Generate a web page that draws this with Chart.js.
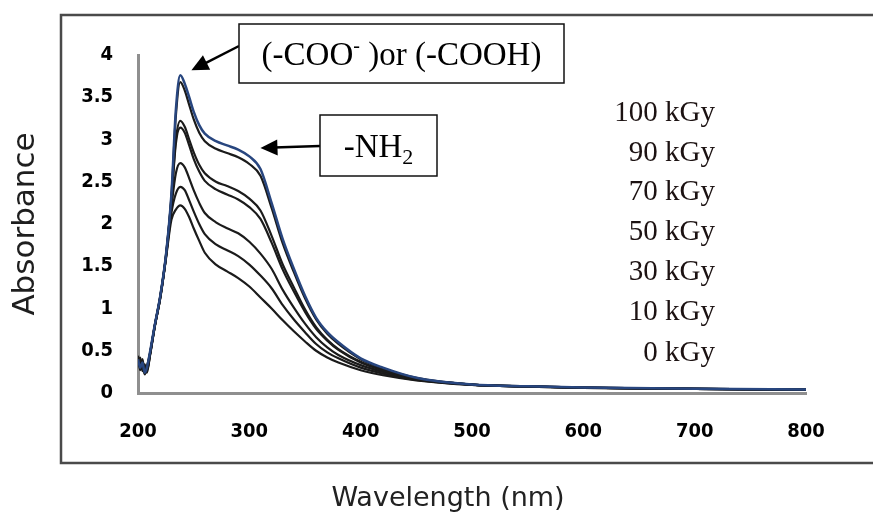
<!DOCTYPE html>
<html>
<head>
<meta charset="utf-8">
<script src="https://cdn.jsdelivr.net/npm/chart.js@4.4.0/dist/chart.umd.min.js"></script>
<style>
  html, body { margin: 0; padding: 0; background: #fff; }
  #wrap { width: 873px; height: 517px; }
</style>
</head>
<body>
<div id="wrap"><canvas id="uvChart" width="873" height="517"></canvas></div>
<script>
// ── DATI ─────────────────────────────────────

const wavelengths = [200, 202, 204, 206, 208, 211, 215, 220, 225, 230, 234, 238, 242, 246, 250, 255, 260,
  270, 280, 290, 300, 310, 320, 330, 340, 350, 360, 370, 380, 400, 420, 450, 500, 550, 600, 700, 800];

const abs100 = [0.40, 0.30, 0.36, 0.24, 0.30, 0.50, 0.80, 1.15, 1.62, 2.35, 3.35, 3.76, 3.66, 3.50, 3.33, 3.17, 3.07,
  2.98, 2.93, 2.88, 2.80, 2.65, 2.25, 1.82, 1.47, 1.15, 0.89, 0.72, 0.60, 0.41, 0.30, 0.18, 0.10, 0.08, 0.065, 0.05, 0.04];
const abs90 = [0.36, 0.42, 0.28, 0.30, 0.26, 0.48, 0.79, 1.14, 1.61, 2.33, 3.28, 3.68, 3.58, 3.41, 3.24, 3.08, 2.98,
  2.89, 2.84, 2.79, 2.71, 2.57, 2.19, 1.77, 1.43, 1.12, 0.87, 0.70, 0.58, 0.40, 0.29, 0.18, 0.10, 0.08, 0.064, 0.05, 0.04];
const abs70 = [0.44, 0.30, 0.38, 0.22, 0.31, 0.49, 0.80, 1.15, 1.62, 2.30, 3.00, 3.22, 3.15, 3.00, 2.85, 2.70, 2.60,
  2.50, 2.45, 2.39, 2.30, 2.16, 1.86, 1.52, 1.25, 0.99, 0.78, 0.63, 0.52, 0.37, 0.27, 0.17, 0.10, 0.078, 0.063, 0.049, 0.039];
const abs50 = [0.34, 0.38, 0.26, 0.34, 0.24, 0.47, 0.79, 1.14, 1.60, 2.28, 2.95, 3.14, 3.08, 2.93, 2.77, 2.62, 2.51,
  2.41, 2.35, 2.29, 2.20, 2.06, 1.78, 1.46, 1.20, 0.96, 0.76, 0.62, 0.51, 0.36, 0.27, 0.17, 0.10, 0.078, 0.063, 0.049, 0.039];
const abs30 = [0.42, 0.27, 0.40, 0.25, 0.29, 0.48, 0.78, 1.13, 1.60, 2.20, 2.60, 2.72, 2.67, 2.54, 2.40, 2.25, 2.13,
  2.02, 1.95, 1.89, 1.79, 1.65, 1.47, 1.22, 1.01, 0.82, 0.66, 0.54, 0.45, 0.33, 0.25, 0.16, 0.098, 0.077, 0.062, 0.049, 0.039];
const abs10 = [0.37, 0.33, 0.29, 0.28, 0.27, 0.46, 0.78, 1.13, 1.59, 2.13, 2.36, 2.44, 2.40, 2.28, 2.15, 2.00, 1.88,
  1.76, 1.69, 1.62, 1.52, 1.39, 1.24, 1.04, 0.87, 0.72, 0.58, 0.48, 0.41, 0.30, 0.23, 0.155, 0.097, 0.076, 0.061, 0.048, 0.038];
const abs0 = [0.39, 0.31, 0.35, 0.23, 0.30, 0.47, 0.79, 1.12, 1.58, 2.05, 2.17, 2.22, 2.18, 2.08, 1.95, 1.80, 1.66,
  1.52, 1.44, 1.36, 1.26, 1.13, 1.00, 0.86, 0.73, 0.61, 0.50, 0.42, 0.36, 0.27, 0.21, 0.15, 0.095, 0.075, 0.06, 0.048, 0.038];

const doseLabels = ['100 kGy', '90 kGy', '70 kGy', '50 kGy', '30 kGy', '10 kGy', '0 kGy'];
const doseSeries = [abs100, abs90, abs70, abs50, abs30, abs10, abs0];

const xTicks = [200, 300, 400, 500, 600, 700, 800];
const yTicks = [0, 0.5, 1, 1.5, 2, 2.5, 3, 3.5, 4];

// frecce: punta in coordinate dati (nm, assorbanza)
const arrowCOO = { x: 248, y: 3.82 };
const arrowNH2 = { x: 310, y: 2.90 };

// ── STILI ────────────────────────────────────

const TICK_FONT = "'Liberation Sans Narrow', 'DejaVu Sans Condensed', Arial, sans-serif";
const TITLE_FONT = "'DejaVu Sans', Verdana, sans-serif";
const SERIF = "'Liberation Serif', 'Times New Roman', serif";

// ── UTILITY ──────────────────────────────────

function drawArrow(ctx, x1, y1, x2, y2) {
  const ang = Math.atan2(y2 - y1, x2 - x1);
  const head = 17, half = 8;
  ctx.strokeStyle = '#000';
  ctx.lineWidth = 2.5;
  ctx.beginPath();
  ctx.moveTo(x1, y1);
  ctx.lineTo(x2 - Math.cos(ang) * head * 0.8, y2 - Math.sin(ang) * head * 0.8);
  ctx.stroke();
  ctx.fillStyle = '#000';
  ctx.beginPath();
  ctx.moveTo(x2, y2);
  ctx.lineTo(x2 - Math.cos(ang) * head + Math.sin(ang) * half, y2 - Math.sin(ang) * head - Math.cos(ang) * half);
  ctx.lineTo(x2 - Math.cos(ang) * head - Math.sin(ang) * half, y2 - Math.sin(ang) * head + Math.cos(ang) * half);
  ctx.closePath();
  ctx.fill();
}

function drawBox(ctx, x, y, w, h) {
  ctx.fillStyle = '#fff';
  ctx.fillRect(x, y, w, h);
  ctx.strokeStyle = '#111';
  ctx.lineWidth = 1.5;
  ctx.strokeRect(x, y, w, h);
}

// pezzi di testo con apice / pedice
function drawRich(ctx, parts, cx, baseline) {
  let total = 0;
  parts.forEach(p => { ctx.font = p.font; total += ctx.measureText(p.t).width; });
  let x = cx - total / 2;
  ctx.fillStyle = '#000';
  ctx.textAlign = 'left';
  ctx.textBaseline = 'alphabetic';
  parts.forEach(p => {
    ctx.font = p.font;
    ctx.fillText(p.t, x, baseline + (p.dy || 0));
    x += ctx.measureText(p.t).width;
  });
}

// ── PLUGIN CORNICE E ANNOTAZIONI ─────────────

const framePlugin = {
  id: 'frame',
  beforeDraw(chart) {
    const ctx = chart.ctx;
    ctx.save();
    ctx.fillStyle = '#fff';
    ctx.fillRect(0, 0, chart.width, chart.height);
    ctx.strokeStyle = '#4a4a4a';
    ctx.lineWidth = 2.5;
    ctx.beginPath();
    ctx.moveTo(chart.width, 15);
    ctx.lineTo(61, 15);
    ctx.lineTo(61, 463);
    ctx.lineTo(chart.width, 463);
    ctx.stroke();
    ctx.restore();
  },
  afterDraw(chart) {
    const ctx = chart.ctx;
    const xs = chart.scales.x, ys = chart.scales.y;
    ctx.save();

    // titolo asse x (spostato a sinistra come nell'originale)
    ctx.font = '27px ' + TITLE_FONT;
    ctx.fillStyle = '#222';
    ctx.textAlign = 'center';
    ctx.textBaseline = 'middle';
    ctx.fillText('Wavelength (nm)', 448, 499);

    // etichette dose
    ctx.font = '29px ' + SERIF;
    ctx.fillStyle = '#1c1212';
    ctx.textAlign = 'right';
    ctx.textBaseline = 'middle';
    const labelY = [113, 153, 192, 232, 272, 312, 353];
    doseLabels.forEach((l, i) => ctx.fillText(l, 715, labelY[i]));

    // box (-COO-)
    drawArrow(ctx, 239, 46, xs.getPixelForValue(arrowCOO.x), ys.getPixelForValue(arrowCOO.y));
    drawBox(ctx, 239, 24, 325, 59);
    drawRich(ctx, [
      { t: '(-COO', font: '33px ' + SERIF },
      { t: '-', font: '20px ' + SERIF, dy: -13 },
      { t: ' )or (-COOH)', font: '33px ' + SERIF }
    ], 239 + 325 / 2, 65);

    // box -NH2
    drawArrow(ctx, 320, 146, xs.getPixelForValue(arrowNH2.x), ys.getPixelForValue(arrowNH2.y));
    drawBox(ctx, 320, 115, 117, 61);
    drawRich(ctx, [
      { t: '-NH', font: '33px ' + SERIF },
      { t: '2', font: '22px ' + SERIF, dy: 7 }
    ], 320 + 117 / 2, 157);

    ctx.restore();
  }
};

// ── GRAFICO ──────────────────────────────────

function renderSpectra() {
  const canvas = document.getElementById('uvChart');

  // neri prima, blu (100 kGy) sopra
  const datasets = doseSeries.map((arr, i) => ({
    label: doseLabels[i],
    data: wavelengths.map((w, k) => ({ x: w, y: arr[k] })),
    borderColor: i === 0 ? '#28467f' : '#1b1b1b',
    borderWidth: i === 0 ? 2.5 : 2.2,
    pointRadius: 0,
    cubicInterpolationMode: 'monotone',
    order: i === 0 ? 0 : 1
  }));

  new Chart(canvas, {
    type: 'line',
    data: { datasets },
    plugins: [framePlugin],
    options: {
      responsive: false,
      animation: false,
      devicePixelRatio: 1,
      layout: { padding: { top: 55, right: 67, left: 0, bottom: 0 } },
      plugins: {
        legend: { display: false },
        tooltip: { enabled: false }
      },
      scales: {
        x: {
          type: 'linear',
          min: 200,
          max: 800,
          afterFit: s => { s.height = 124; },
          afterBuildTicks: s => { s.ticks = xTicks.map(v => ({ value: v })); },
          ticks: {
            color: '#000',
            padding: 27,
            maxRotation: 0,
            callback: v => String(v),
            font: { family: TICK_FONT, size: 20, weight: 'bold' }
          },
          grid: { display: false, drawTicks: false },
          border: { display: true, color: '#8f8f8f', width: 3 },
          title: { display: false }
        },
        y: {
          min: 0,
          max: 4,
          afterFit: s => { s.width = 138; },
          afterBuildTicks: s => { s.ticks = yTicks.map(v => ({ value: v })); },
          ticks: {
            color: '#000',
            padding: 25,
            callback: v => String(v),
            font: { family: TICK_FONT, size: 20, weight: 'bold' }
          },
          grid: { display: false, drawTicks: false },
          border: { display: true, color: '#8f8f8f', width: 3 },
          title: {
            display: true,
            text: 'Absorbance',
            color: '#1e1e1e',
            padding: { top: 7, bottom: 0 },
            font: { family: TITLE_FONT, size: 31 }
          }
        }
      }
    }
  });
}

// ── INIT ─────────────────────────────────────

document.addEventListener('DOMContentLoaded', renderSpectra);
</script>
</body>
</html>
